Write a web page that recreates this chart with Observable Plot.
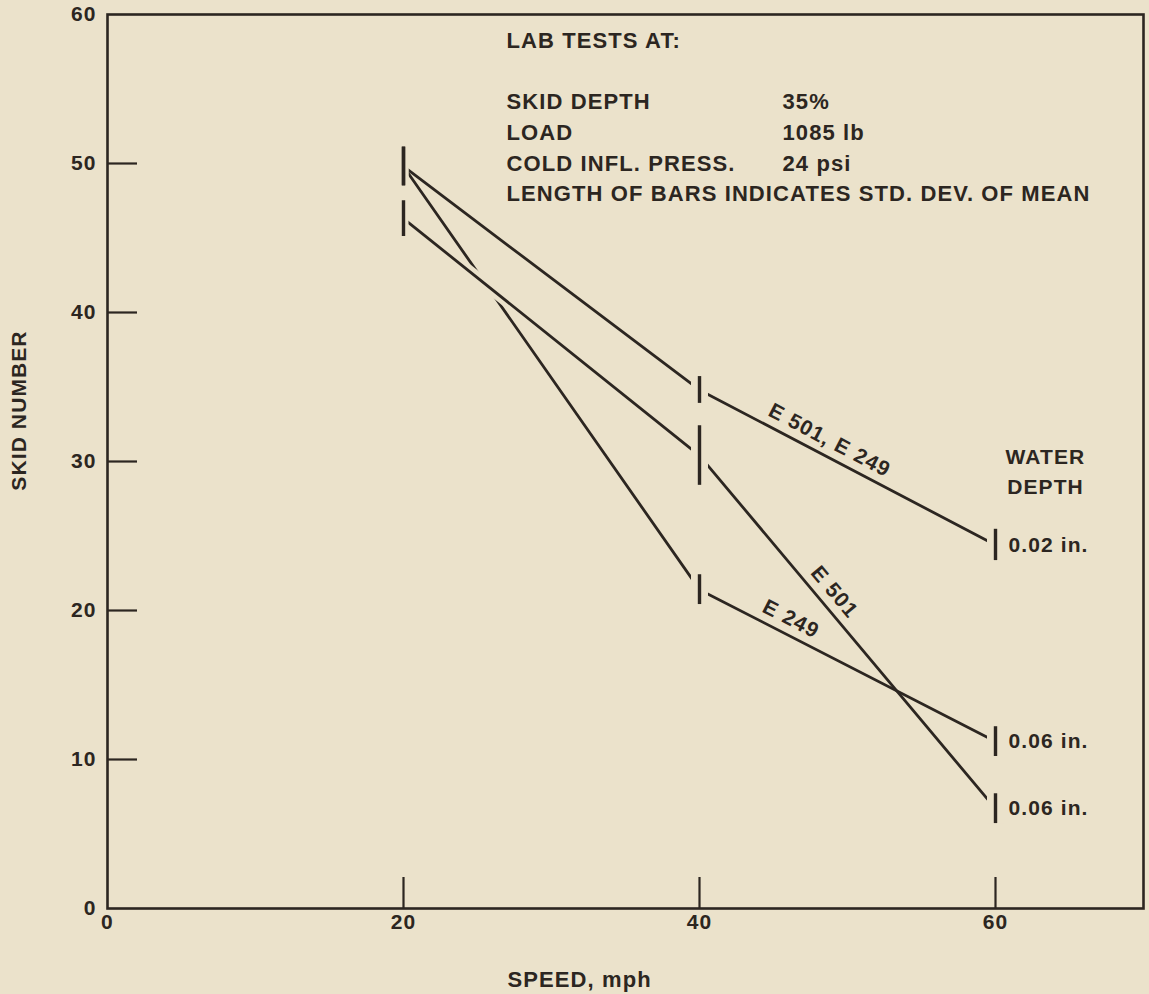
<!DOCTYPE html>
<html>
<head>
<meta charset="utf-8">
<script src="https://cdn.jsdelivr.net/npm/d3@7"></script>
<script src="https://cdn.jsdelivr.net/npm/@observablehq/plot@0.6"></script>
<style>
  html, body { margin: 0; padding: 0; background: #ebe2cb; }
  #chart svg { display: block; }
  #chart svg text { letter-spacing: 1.1px; }
</style>
</head>
<body>
<div id="chart"></div>
<script>
// Skid number versus speed, lab tests at three water depths.
const speeds = [20, 40, 60];
const seriesNames = ["E 501, E 249", "E 249", "E 501"];
const waterDepths = ["0.02 in.", "0.06 in.", "0.06 in."];

// mean skid number at 20, 40, 60 mph
const meanCombined002 = [49.8, 34.8, 24.4];
const meanE249_006 = [49.8, 21.4, 11.2];
const meanE501_006 = [46.3, 30.4, 6.7];

// standard deviation of the mean (bar half-length)
const sdCombined002 = [1.3, 0.9, 1.05];
const sdE249_006 = [1.3, 1.0, 1.0];
const sdE501_006 = [1.2, 2.0, 1.0];

// speed at which each series name is written along its line
const nameAtSpeed = [48.3, 45.7, 48.3];

const xTicks = [0, 20, 40, 60];
const yTicks = [0, 10, 20, 30, 40, 50, 60];
const innerYTicks = [10, 20, 30, 40, 50];
const innerXTicks = [20, 40, 60];

const headingText = "LAB TESTS AT:";
const conditionNames = ["SKID DEPTH", "LOAD", "COLD INFL. PRESS."];
const conditionValues = ["35%", "1085 lb", "24 psi"];
const noteText = "LENGTH OF BARS INDICATES STD. DEV. OF MEAN";
const depthHeading = "WATER\nDEPTH";
const xLabel = "SPEED, mph";
const yLabel = "SKID NUMBER";

const paper = "#ebe2cb";
const ink = "#2c2621";
const font = "'Liberation Sans', Arial, Helvetica, sans-serif";

const W = 1149, H = 994;
const mTop = 14, mRight = 6, mBottom = 86, mLeft = 107;
const xDomain = [0, 70];
const yDomain = [0, 60];

// same mapping Plot uses, for the text angles
const sx = d3.scaleLinear(xDomain, [mLeft, W - mRight]);
const sy = d3.scaleLinear(yDomain, [H - mBottom, mTop]);

const means = [meanCombined002, meanE249_006, meanE501_006];
const sds = [sdCombined002, sdE249_006, sdE501_006];

const rows = seriesNames.flatMap((name, i) =>
  speeds.map((s, j) => ({series: name, depth: waterDepths[i], speed: s, mean: means[i][j], sd: sds[i][j]}))
);
const firstTwo = rows.filter(d => d.series !== "E 501");
const e501 = rows.filter(d => d.series === "E 501");

// series names written parallel to the 40–60 mph segment, just above it
const nameMarks = seriesNames.map((name, i) => {
  const m = means[i];
  const angle = Math.atan2(sy(m[2]) - sy(m[1]), sx(speeds[2]) - sx(speeds[1]));
  const t = (nameAtSpeed[i] - speeds[1]) / (speeds[2] - speeds[1]);
  const v = m[1] + t * (m[2] - m[1]);
  const off = 9;
  return Plot.text([{speed: nameAtSpeed[i], value: v, label: name}], {
    x: "speed", y: "value", text: "label",
    rotate: angle * 180 / Math.PI,
    textAnchor: "middle", lineAnchor: "bottom",
    dx: off * Math.sin(angle), dy: -off * Math.cos(angle),
    fontSize: 21, fontWeight: "bold", fill: ink
  });
});

const plotW = W - mLeft - mRight;
const plotH = H - mTop - mBottom;

const chart = Plot.plot({
  width: W,
  height: H,
  marginTop: mTop, marginRight: mRight, marginBottom: mBottom, marginLeft: mLeft,
  x: {domain: xDomain},
  y: {domain: yDomain},
  style: {background: paper, fontFamily: font, color: ink},
  marks: [
    Plot.frame({stroke: ink, strokeWidth: 2.6}),
    // inward ticks
    Plot.ruleY(innerYTicks, {y: d => d, insetRight: plotW - 30, stroke: ink, strokeWidth: 2.2}),
    Plot.ruleX(innerXTicks, {x: d => d, insetTop: plotH - 31, stroke: ink, strokeWidth: 2.2}),
    Plot.axisY({ticks: yTicks, tickSize: 0, tickPadding: 11, label: null, fontSize: 21, fontWeight: "bold", fill: ink}),
    Plot.axisX({ticks: xTicks, tickSize: 0, tickPadding: 6, label: null, fontSize: 21, fontWeight: "bold", fill: ink}),

    // trend lines between the means
    Plot.line(firstTwo, {x: "speed", y: "mean", z: "series", stroke: ink, strokeWidth: 2.8}),
    // E 501 passes over the E 249 line: break the line underneath
    Plot.line(e501.filter(d => d.speed <= 40), {x: "speed", y: "mean", stroke: paper, strokeWidth: 12}),
    Plot.line(e501, {x: "speed", y: "mean", stroke: ink, strokeWidth: 2.8}),

    // standard deviation bars with a small clearance around them
    Plot.ruleX(rows.filter(d => d.speed === 20), {x: "speed", y1: d => d.mean - d.sd, y2: d => d.mean + d.sd, stroke: paper, strokeWidth: 10}),
    Plot.ruleX(rows.filter(d => d.speed !== 20), {x: "speed", y1: d => d.mean - d.sd, y2: d => d.mean + d.sd, stroke: paper, strokeWidth: 17}),
    Plot.ruleX(rows, {x: "speed", y1: d => d.mean - d.sd, y2: d => d.mean + d.sd, stroke: ink, strokeWidth: 3.4}),

    ...nameMarks,

    // water depth labels at 60 mph
    Plot.text(rows.filter(d => d.speed === 60), {x: "speed", y: "mean", text: "depth", textAnchor: "start", dx: 13, fontSize: 21, fontWeight: "bold", fill: ink}),
    Plot.text([depthHeading], {x: () => 60, frameAnchor: "top", text: d => d, textAnchor: "middle", lineAnchor: "top", lineHeight: 1.4, dx: 50, dy: 429, fontSize: 21, fontWeight: "bold", fill: ink}),

    // test conditions
    Plot.text([[headingText, "", ...conditionNames, noteText].join("\n")], {frameAnchor: "top-left", text: d => d, textAnchor: "start", lineAnchor: "top", lineHeight: 1.39, dx: 399, dy: 12, fontSize: 22, fontWeight: "bold", fill: ink}),
    Plot.text([["", "", ...conditionValues].join("\n")], {frameAnchor: "top-left", text: d => d, textAnchor: "start", lineAnchor: "top", lineHeight: 1.39, dx: 675, dy: 12, fontSize: 22, fontWeight: "bold", fill: ink}),

    // axis titles
    Plot.text([xLabel], {frameAnchor: "bottom-left", text: d => d, textAnchor: "start", lineAnchor: "bottom", dx: 400, dy: 78, fontSize: 22, fontWeight: "bold", fill: ink}),
    Plot.text([yLabel], {frameAnchor: "left", text: d => d, rotate: -90, textAnchor: "middle", lineAnchor: "middle", dx: -88, dy: -51, fontSize: 21, fontWeight: "bold", fill: ink})
  ]
});

document.getElementById("chart").append(chart);
</script>
</body>
</html>
